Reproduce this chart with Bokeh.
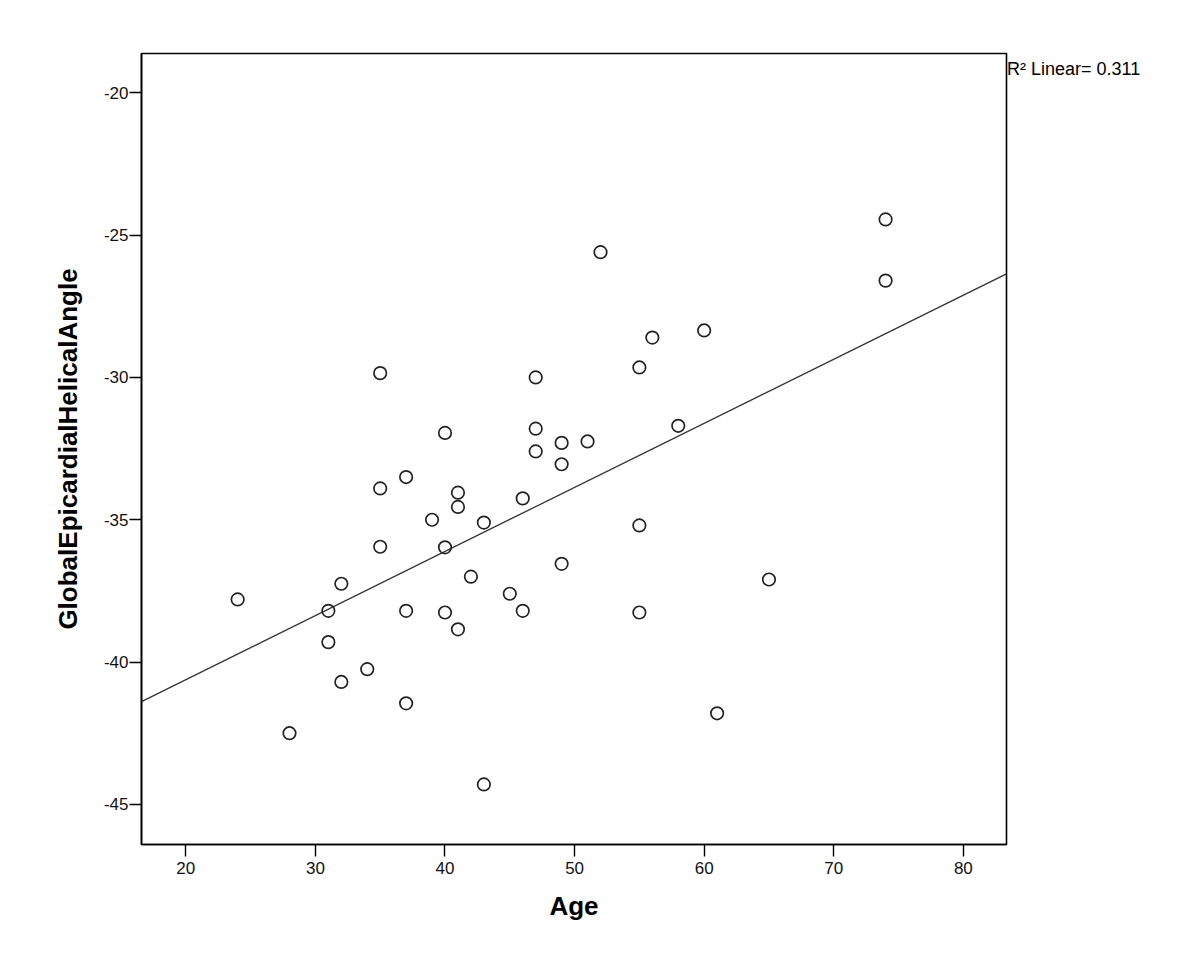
import numpy as np
from bokeh.plotting import figure
from bokeh.models import Range1d, FixedTicker, Legend, LegendItem
from bokeh.embed import file_html
from bokeh.resources import INLINE

# ---- data ----
age = [24, 28, 31, 31, 32, 32, 34, 35, 35, 35, 37, 37, 37, 39, 40, 40, 40,
       41, 41, 41, 42, 43, 43, 45, 46, 46, 47, 47, 47, 49, 49, 49, 51, 52,
       55, 55, 55, 56, 58, 60, 61, 65, 74, 74]
helical_angle = [-37.8, -42.5, -38.2, -39.3, -37.25, -40.7, -40.25, -29.85, -33.9, -35.95,
                 -33.5, -38.2, -41.45, -35.0, -31.95, -35.97, -38.26,
                 -34.05, -34.55, -38.85, -37.0, -35.1, -44.3, -37.6, -34.25, -38.2,
                 -30.0, -31.8, -32.6, -32.3, -33.05, -36.55, -32.25, -25.6,
                 -29.65, -35.2, -38.26, -28.6, -31.7, -28.35, -41.8, -37.1, -24.45, -26.6]
x_ticks = [20, 30, 40, 50, 60, 70, 80]
y_ticks = [-45, -40, -35, -30, -25, -20]
r2_text = "R\u00b2 Linear= 0.311"
x_label = "Age"
y_label = "GlobalEpicardialHelicalAngle"

FONT = "Liberation Sans"

x0, x1 = 16.58, 83.33
y0, y1 = -46.41, -18.62

p = figure(frame_width=865, frame_height=791, output_backend="svg", toolbar_location=None,
           x_range=Range1d(x0, x1), y_range=Range1d(y0, y1),
           min_border_left=141, min_border_right=186,
           min_border_top=53, min_border_bottom=118)

p.background_fill_color = "white"
p.border_fill_color = "white"
p.outline_line_color = "black"
p.outline_line_width = 1.6
p.xgrid.visible = False
p.ygrid.visible = False

for ax in (p.xaxis[0], p.yaxis[0]):
    ax.axis_line_color = "black"
    ax.axis_line_width = 1.6
    ax.major_tick_line_color = "black"
    ax.major_tick_line_width = 1.4
    ax.major_tick_out = 12
    ax.major_tick_in = 0
    ax.minor_tick_line_color = None
    ax.major_label_text_font = FONT
    ax.major_label_text_font_size = "17px"
    ax.major_label_text_color = "#111111"
    ax.axis_label_text_font = FONT
    ax.axis_label_text_font_style = "bold"
    ax.axis_label_text_font_size = "26px"
    ax.axis_label_text_color = "black"

p.xaxis.ticker = FixedTicker(ticks=x_ticks)
p.yaxis.ticker = FixedTicker(ticks=y_ticks)
p.xaxis.major_label_overrides = {t: str(t) for t in x_ticks}
p.yaxis.major_label_overrides = {t: str(t) for t in y_ticks}
p.xaxis.major_label_standoff = 5
p.yaxis.major_label_standoff = 1
p.xaxis.axis_label = x_label
p.yaxis.axis_label = y_label
p.xaxis.axis_label_standoff = 14
p.yaxis.axis_label_standoff = 18

# linear fit line across the whole x range
slope, intercept = np.polyfit(np.array(age, float), np.array(helical_angle, float), 1)
fit = p.line([x0, x1], [intercept + slope * x0, intercept + slope * x1],
             line_color="#333333", line_width=1.3)

p.scatter(age, helical_angle, marker="circle", size=12.5, fill_color=None,
          line_color="#222222", line_width=1.7)

# R^2 annotation, drawn as a glyph-less legend entry in the right panel
legend = Legend(items=[LegendItem(label=r2_text, renderers=[fit])],
                location="top_left", orientation="vertical",
                glyph_width=0, glyph_height=32, label_height=32,
                label_standoff=1, padding=0, margin=0, spacing=0,
                border_line_color=None, background_fill_alpha=0,
                label_text_font=FONT, label_text_font_size="18px",
                label_text_color="black", label_text_baseline="middle")
p.add_layout(legend, "right")

open("out.html", "w").write(file_html(p, INLINE))
